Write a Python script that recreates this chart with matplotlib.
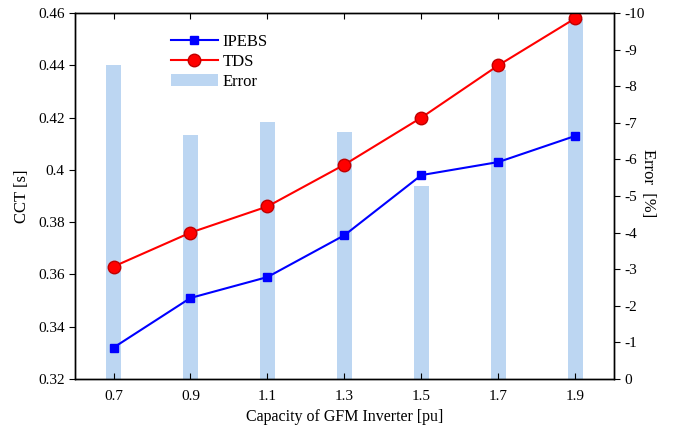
import matplotlib
matplotlib.use("Agg")
import matplotlib.pyplot as plt
import numpy as np

plt.rcParams['font.family'] = ['Liberation Serif', 'DejaVu Serif']
plt.rcParams['axes.unicode_minus'] = False

capacity = [0.7, 0.9, 1.1, 1.3, 1.5, 1.7, 1.9]
cct_ipebs = [0.332, 0.351, 0.359, 0.375, 0.398, 0.403, 0.413]
cct_tds = [0.363, 0.376, 0.386, 0.402, 0.420, 0.440, 0.458]
error_pct = [-8.57, -6.67, -7.01, -6.74, -5.28, -8.44, -9.85]

fig = plt.figure(figsize=(6.82, 4.28), dpi=100)
ax = fig.add_axes([0.11, 0.1145, 0.79, 0.855])
ax2 = ax.twinx()

# bars on the twin axis, drawn behind the lines
bars = ax2.bar(capacity, error_pct, width=0.04, color='#bcd6f2', label='Error')
ax2.set_ylim(0, -10)
ax2.set_yticks(np.arange(0, -11, -1))
ax2.set_ylabel('Error  [%]', fontsize=12, rotation=-90, labelpad=8)
ax2.yaxis.label.set_y(0.535)
ax2.tick_params(axis='y', direction='out', labelsize=11, length=4)

ax.set_zorder(ax2.get_zorder() + 1)
ax.patch.set_visible(False)

l1, = ax.plot(capacity, cct_ipebs, color='blue', lw=1.5, marker='s', ms=6,
              markerfacecolor='blue', markeredgecolor='blue', label='IPEBS')
l2, = ax.plot(capacity, cct_tds, color='red', lw=1.5, marker='o', ms=9,
              markerfacecolor='red', markeredgecolor='#c00000', label='TDS')

ax.set_xlim(0.6, 2.0)
ax.set_ylim(0.32, 0.46)
ax.set_xticks(capacity)
ax.set_xticklabels(['0.7', '0.9', '1.1', '1.3', '1.5', '1.7', '1.9'])
ax.set_yticks(np.arange(0.32, 0.461, 0.02))
ax.set_yticklabels(['0.32', '0.34', '0.36', '0.38', '0.4', '0.42', '0.44', '0.46'])
ax.tick_params(axis='x', direction='in', labelsize=11, length=4, top=True, pad=8)
ax.tick_params(axis='y', direction='out', labelsize=11, length=4)
ax.set_xlabel('Capacity of GFM Inverter [pu]', fontsize=11.5)
ax.set_ylabel('CCT [s]', fontsize=12, labelpad=6)

for a in (ax, ax2):
    for s in a.spines.values():
        s.set_linewidth(1.0)

ax.legend([l1, l2, bars], ['IPEBS', 'TDS', 'Error'], loc='upper left',
          bbox_to_anchor=(0.15, 0.985), frameon=False, fontsize=12,
          handlelength=2.8, handletextpad=0.3, labelspacing=0.25)

fig.savefig('out.png', dpi=100)
